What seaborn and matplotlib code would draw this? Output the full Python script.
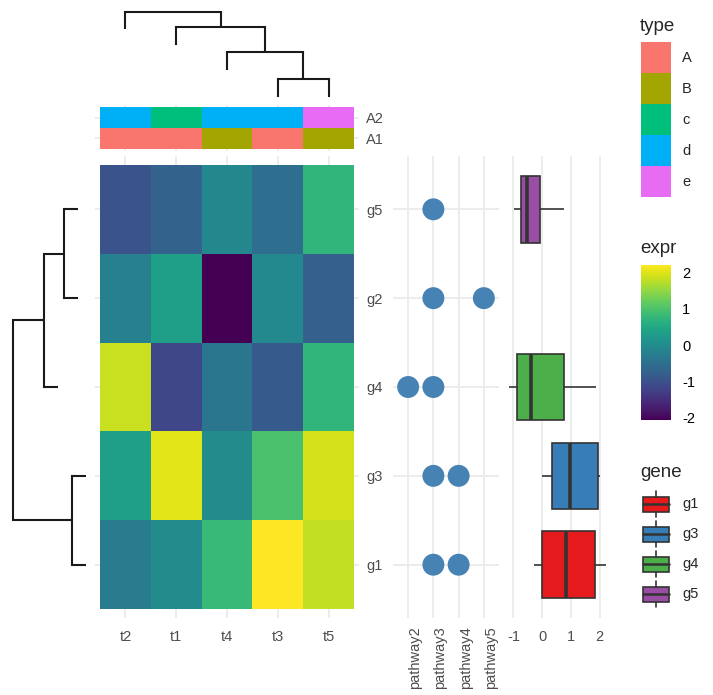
import numpy as np
import pandas as pd
import matplotlib
matplotlib.use("Agg")
import matplotlib.pyplot as plt
import seaborn as sns
from matplotlib.colors import ListedColormap
from matplotlib.patches import Patch, Rectangle
from matplotlib.lines import Line2D
from matplotlib.legend_handler import HandlerBase

sns.set_style("white")
plt.rcParams['font.family'] = ['Liberation Sans', 'DejaVu Sans']
plt.rcParams['axes.unicode_minus'] = False

# row / column order after clustering
genes = ['g5', 'g2', 'g4', 'g3', 'g1']
tissues = ['t2', 't1', 't4', 't3', 't5']
expr = [[-0.98, -0.75, -0.09, -0.54, 0.74],
        [-0.23, 0.33, -2.08, -0.06, -0.79],
        [1.86, -1.16, -0.40, -0.88, 0.74],
        [0.33, 2.02, 0.00, 0.98, 1.95],
        [-0.30, 0.00, 0.81, 2.22, 1.83]]

# column annotation
anno_rows = ['A2', 'A1']
anno_A2 = ['d', 'c', 'd', 'd', 'e']
anno_A1 = ['A', 'A', 'B', 'A', 'B']
type_levels = ['A', 'B', 'c', 'd', 'e']
type_colors = ['#F8766D', '#A3A500', '#00BF7D', '#00B0F6', '#E76BF3']

# gene - pathway dots
pathways = ['pathway2', 'pathway3', 'pathway4', 'pathway5']
dot_gene = ['g5', 'g2', 'g2', 'g4', 'g4', 'g3', 'g3', 'g1', 'g1']
dot_pathway = ['pathway3', 'pathway3', 'pathway5', 'pathway2', 'pathway3',
               'pathway3', 'pathway4', 'pathway3', 'pathway4']

# boxplot genes
box_genes = ['g1', 'g3', 'g4', 'g5']
gene_colors = ['#E41A1C', '#377EB8', '#4DAF4A', '#984EA3']

# trees: (children, branch length) for nodes, (label, branch length) for tips
col_tree = [('t2', 0.17),
            ([('t1', 0.18),
              ([('t4', 0.18),
                ([('t3', 0.18), ('t5', 0.18)], 0.27)], 0.25)], 0.15)]
row_tree = [([([('g5', 0.14), ('g2', 0.14)], 0.20), ('g4', 0.14)], 0.31),
            ([('g3', 0.14), ('g1', 0.14)], 0.59)]

W, H = 713, 695
fig = plt.figure(figsize=(W / 100, H / 100), dpi=100)


def rect(x0, y0, x1, y1):
    return [x0 / W, 1 - y1 / H, (x1 - x0) / W, (y1 - y0) / H]


tick_kw = dict(length=0, labelsize=10.5, labelcolor='#4D4D4D')
grid_kw = dict(color='#EBEBEB', linewidth=1.3)


def draw_tree(ax, children, depth, leaves, vertical):
    # returns position of this node, draws its edges
    pos = []
    for node, bl in children:
        d = depth + bl
        if isinstance(node, str):
            p = leaves.index(node) + 0.5
        else:
            p = draw_tree(ax, node, d, leaves, vertical)
        pos.append(p)
        seg = ([p, p], [depth, d]) if vertical else ([depth, d], [p, p])
        ax.plot(*seg, color='#1a1a1a', lw=1.5, clip_on=False, solid_capstyle='butt')
    bar = ([min(pos), max(pos)], [depth, depth])
    if not vertical:
        bar = bar[::-1]
    ax.plot(*bar, color='#1a1a1a', lw=1.5, clip_on=False, solid_capstyle='projecting')
    return np.mean(pos)


# heatmap
heat_df = pd.DataFrame(expr, index=genes, columns=tissues)
ax_heat = fig.add_axes(rect(95, 156, 359, 618))
cax = fig.add_axes(rect(641, 265, 671, 420))
sns.heatmap(heat_df, ax=ax_heat, cmap='viridis', cbar_ax=cax,
            xticklabels=True, yticklabels=True)
ax_heat.set_xlim(-0.1, 5.1)
ax_heat.set_ylim(5.1, -0.1)
ax_heat.yaxis.tick_right()
ax_heat.tick_params(axis='y', labelrotation=0, pad=5, **tick_kw)
ax_heat.tick_params(axis='x', labelrotation=0, pad=8.5, **tick_kw)
ax_heat.grid(True, **grid_kw)
ax_heat.set_axisbelow(True)
ax_heat.set_xlabel('')
ax_heat.set_ylabel('')

cb = ax_heat.collections[0].colorbar
cb.set_ticks([-2, -1, 0, 1, 2])
cb.outline.set_visible(False)
cax.yaxis.set_ticks_position('both')
cax.tick_params(left=True, right=True, labelleft=False, labelright=True,
                direction='in', color='white', length=6, width=1,
                labelsize=10.5, labelcolor='black', pad=8)

# annotation bar
anno_df = pd.DataFrame([[type_levels.index(v) for v in anno_A2],
                        [type_levels.index(v) for v in anno_A1]],
                       index=anno_rows, columns=tissues)
ax_anno = fig.add_axes(rect(95, 105, 359, 151))
sns.heatmap(anno_df, ax=ax_anno, cmap=ListedColormap(type_colors),
            vmin=-0.5, vmax=4.5, cbar=False, xticklabels=True, yticklabels=True)
ax_anno.set_xlim(-0.1, 5.1)
ax_anno.set_ylim(2.1, -0.1)
ax_anno.yaxis.tick_right()
ax_anno.tick_params(axis='y', labelrotation=0, pad=5, **tick_kw)
ax_anno.tick_params(axis='x', labelbottom=False, length=0)
ax_anno.grid(True, **grid_kw)
ax_anno.set_axisbelow(True)
ax_anno.set_xlabel('')
ax_anno.set_ylabel('')

# dendrograms
ax_top = fig.add_axes(rect(95, 12, 359, 97))
ax_top.set_xlim(-0.1, 5.1)
ax_top.set_ylim(0.85, 0)
draw_tree(ax_top, col_tree, 0, tissues, vertical=True)
ax_top.axis('off')

ax_left = fig.add_axes(rect(13, 156, 86, 618))
ax_left.set_xlim(0, 0.73)
ax_left.set_ylim(5.1, -0.1)
draw_tree(ax_left, row_tree, 0, genes, vertical=False)
ax_left.axis('off')

# dot plot
dot_df = pd.DataFrame({'gene': pd.Categorical(dot_gene, categories=genes),
                       'pathway': pd.Categorical(dot_pathway, categories=pathways)})
ax_dot = fig.add_axes(rect(393, 156, 499, 618))
sns.scatterplot(x=dot_df['pathway'].cat.codes, y=dot_df['gene'].cat.codes,
                ax=ax_dot, s=250, color='steelblue', edgecolor='none', linewidth=0)
ax_dot.set_xlim(-0.6, len(pathways) - 0.4)
ax_dot.set_ylim(len(genes) - 0.4, -0.6)
ax_dot.set_xticks(range(len(pathways)))
ax_dot.set_xticklabels(pathways, rotation=90, ha='left')
ax_dot.set_yticks(range(len(genes)))
ax_dot.set_yticklabels([])
ax_dot.tick_params(axis='x', pad=6, **tick_kw)
ax_dot.tick_params(axis='y', length=0)
ax_dot.grid(True, **grid_kw)
ax_dot.set_axisbelow(True)
ax_dot.set_xlabel('')
ax_dot.set_ylabel('')
sns.despine(ax=ax_dot, left=True, bottom=True)

# boxplot
box_df = heat_df.loc[box_genes].stack().reset_index()
box_df.columns = ['gene', 'tissue', 'expr']
ax_box = fig.add_axes(rect(504, 156, 611, 618))
sns.boxplot(data=box_df, x='expr', y='gene', order=genes, hue='gene',
            hue_order=box_genes, palette=gene_colors, saturation=1, width=0.75,
            linecolor='#333333', linewidth=1.2, fliersize=0, showcaps=False,
            medianprops={'linewidth': 2.6}, legend=False, ax=ax_box)
lo, hi = box_df['expr'].min(), box_df['expr'].max()
pad = 0.05 * (hi - lo)
ax_box.set_xlim(lo - pad, hi + pad)
ax_box.set_ylim(len(genes) - 0.4, -0.6)
ax_box.set_xticks([-1, 0, 1, 2])
ax_box.set_yticklabels([])
ax_box.tick_params(axis='x', pad=8.5, **tick_kw)
ax_box.tick_params(axis='y', length=0)
ax_box.grid(True, axis='x', **grid_kw)
ax_box.grid(False, axis='y')
ax_box.set_axisbelow(True)
ax_box.set_xlabel('')
ax_box.set_ylabel('')
sns.despine(ax=ax_box, left=True, bottom=True)

# legends
fs = 10.5
fs_px = fs * 100 / 72


def key_height(px):
    # legend handleheight giving a row of px pixels
    return (px / fs_px - 0.245) / 0.65


class BoxKey(HandlerBase):
    def create_artists(self, legend, orig_handle, xdescent, ydescent,
                       width, height, fontsize, trans):
        x0, y0 = -xdescent, -ydescent
        bw, bh = width * 0.84, height * 0.5
        bx, by = x0 + (width - bw) / 2, y0 + (height - bh) / 2
        cx = x0 + width / 2
        kw = dict(color='#333333', transform=trans)
        box = Rectangle((bx, by), bw, bh, facecolor=orig_handle.get_facecolor(),
                        edgecolor='#333333', lw=1.2, transform=trans)
        med = Line2D([bx, bx + bw], [y0 + height / 2] * 2, lw=1.8, **kw)
        w1 = Line2D([cx, cx], [y0 + height * 0.08, by], lw=1.2, **kw)
        w2 = Line2D([cx, cx], [by + bh, y0 + height * 0.92], lw=1.2, **kw)
        return [w1, w2, box, med]


fig.text(640 / W, 1 - 31 / H, 'type', fontsize=13.5, va='baseline', ha='left')
fig.legend([Patch(facecolor=c, edgecolor='none') for c in type_colors], type_levels,
           loc='upper left', bbox_to_anchor=(641 / W, 1 - 42 / H), frameon=False,
           borderpad=0, borderaxespad=0, labelspacing=0, fontsize=fs,
           handlelength=30 / fs_px, handleheight=key_height(31),
           handletextpad=11 / fs_px)

fig.text(640 / W, 1 - 253 / H, 'expr', fontsize=13.5, va='baseline', ha='left')

fig.text(640 / W, 1 - 477 / H, 'gene', fontsize=13.5, va='baseline', ha='left')
fig.legend([Patch(facecolor=c) for c in gene_colors], box_genes,
           loc='upper left', bbox_to_anchor=(641 / W, 1 - 489 / H), frameon=False,
           borderpad=0, borderaxespad=0, labelspacing=0, fontsize=fs,
           handlelength=30 / fs_px, handleheight=key_height(30),
           handletextpad=11 / fs_px, handler_map={Patch: BoxKey()})

fig.savefig('out.png', dpi=100)
